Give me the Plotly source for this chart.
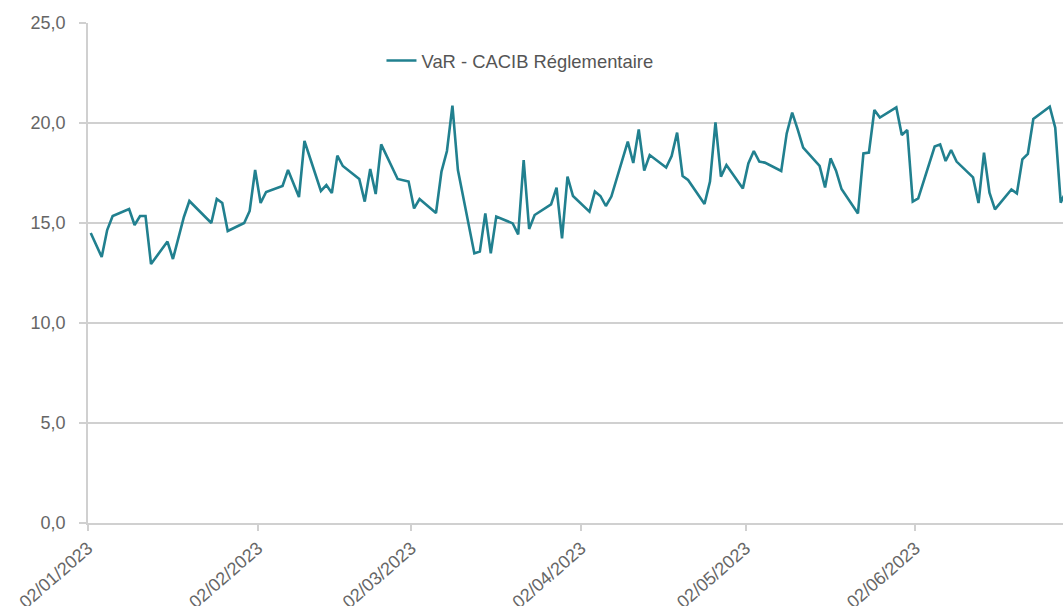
import plotly.graph_objects as go

dates = [
    "2023-01-02", "2023-01-04", "2023-01-05", "2023-01-06", "2023-01-09", "2023-01-10",
    "2023-01-11", "2023-01-12", "2023-01-13", "2023-01-16", "2023-01-17", "2023-01-19",
    "2023-01-20", "2023-01-24", "2023-01-25", "2023-01-26", "2023-01-27", "2023-01-30",
    "2023-01-31", "2023-02-01", "2023-02-02", "2023-02-03", "2023-02-06", "2023-02-07",
    "2023-02-09", "2023-02-10", "2023-02-13", "2023-02-14", "2023-02-15", "2023-02-16",
    "2023-02-17", "2023-02-20", "2023-02-21", "2023-02-22", "2023-02-23", "2023-02-24",
    "2023-02-27", "2023-03-01", "2023-03-02", "2023-03-03", "2023-03-06", "2023-03-07",
    "2023-03-08", "2023-03-09", "2023-03-10", "2023-03-13", "2023-03-14", "2023-03-15",
    "2023-03-16", "2023-03-17", "2023-03-20", "2023-03-21", "2023-03-22", "2023-03-23",
    "2023-03-24", "2023-03-27", "2023-03-28", "2023-03-29", "2023-03-30", "2023-03-31",
    "2023-04-03", "2023-04-04", "2023-04-05", "2023-04-06", "2023-04-07", "2023-04-10",
    "2023-04-11", "2023-04-12", "2023-04-13", "2023-04-14", "2023-04-17", "2023-04-18",
    "2023-04-19", "2023-04-20", "2023-04-21", "2023-04-24", "2023-04-25", "2023-04-26",
    "2023-04-27", "2023-04-28", "2023-05-01", "2023-05-02", "2023-05-03", "2023-05-04",
    "2023-05-05", "2023-05-08", "2023-05-09", "2023-05-10", "2023-05-11", "2023-05-12",
    "2023-05-15", "2023-05-16", "2023-05-17", "2023-05-18", "2023-05-19", "2023-05-22",
    "2023-05-23", "2023-05-24", "2023-05-25", "2023-05-26", "2023-05-29", "2023-05-30",
    "2023-05-31", "2023-06-01", "2023-06-02", "2023-06-05", "2023-06-06", "2023-06-07",
    "2023-06-08", "2023-06-09", "2023-06-12", "2023-06-13", "2023-06-14", "2023-06-15",
    "2023-06-16", "2023-06-19", "2023-06-20", "2023-06-21", "2023-06-22", "2023-06-23",
    "2023-06-26", "2023-06-27", "2023-06-28", "2023-06-29",
]

var_values = [
    14.5, 13.3, 14.65, 15.35, 15.7, 14.9,
    15.35, 15.35, 12.95, 14.07, 13.2, 15.3,
    16.1, 15.0, 16.2, 16.0, 14.6, 15.0,
    15.6, 17.65, 16.0, 16.55, 16.85, 17.65,
    16.3, 19.1, 16.6, 16.9, 16.5, 18.37,
    17.85, 17.2, 16.07, 17.7, 16.45, 18.93,
    17.2, 17.07, 15.73, 16.2, 15.5, 17.57,
    18.6, 20.87, 17.65, 13.48, 13.57, 15.48,
    13.48, 15.32, 14.98, 14.43, 18.15, 14.7,
    15.4, 15.93, 16.77, 14.23, 17.32, 16.35,
    15.57, 16.57, 16.35, 15.85, 16.32, 19.07,
    18.0, 19.68, 17.62, 18.4, 17.77, 18.35,
    19.52, 17.35, 17.15, 15.95, 17.07, 20.03,
    17.32, 17.9, 16.73, 17.98, 18.6, 18.07,
    18.02, 17.6, 19.48, 20.52, 19.68, 18.77,
    17.85, 16.78, 18.23, 17.62, 16.7, 15.48,
    18.48, 18.52, 20.65, 20.27, 20.78, 19.4,
    19.65, 16.07, 16.23, 18.82, 18.93, 18.1,
    18.65, 18.07, 17.28, 16.0, 18.52, 16.52,
    15.68, 16.68, 16.48, 18.18, 18.45, 20.2,
    20.82, 19.77, 16.02, 16.6,
]

series_name = "VaR - CACIB Réglementaire"

tick_positions = [
    "2023-01-01 12:00", "2023-02-01 12:00", "2023-03-01 12:00",
    "2023-04-01 12:00", "2023-05-01 12:00", "2023-06-01 12:00",
]
tick_labels = ["02/01/2023", "02/02/2023", "02/03/2023", "02/04/2023", "02/05/2023", "02/06/2023"]

y_ticks = [0, 5, 10, 15, 20, 25]
y_tick_labels = ["0,0", "5,0", "10,0", "15,0", "20,0", "25,0"]

line_color = "#21808f"
grid_color = "#d0d0d0"
font_family = "Liberation Sans, Arial, sans-serif"

fig = go.Figure()
fig.add_trace(go.Scatter(
    x=dates, y=var_values, mode="lines", name=series_name,
    line=dict(color=line_color, width=2.6),
    showlegend=True,
))

fig.update_layout(
    width=1063, height=606,
    margin=dict(l=88, r=0, t=23, b=83, autoexpand=False),
    paper_bgcolor="white", plot_bgcolor="white",
    font=dict(family=font_family, color="#666666", size=18),
    showlegend=True,
    legend=dict(
        x=0.301, y=0.925, xanchor="left", yanchor="middle",
        font=dict(size=18.4, color="#555555", family=font_family),
        bgcolor="rgba(0,0,0,0)",
    ),
    xaxis=dict(
        type="date",
        range=["2023-01-01 12:00", "2023-06-28 10:00"],
        tickmode="array", tickvals=tick_positions, ticktext=tick_labels,
        tickangle=-41,
        ticks="outside", ticklen=6, tickcolor=grid_color, tickwidth=1.5,
        showgrid=False, zeroline=False,
        showline=True, linecolor=grid_color, linewidth=1.5,
        tickfont=dict(size=18, color="#666666"),
        automargin=False,
    ),
    yaxis=dict(
        range=[0, 25],
        tickmode="array", tickvals=y_ticks, ticktext=y_tick_labels,
        ticks="outside", ticklen=7, tickcolor=grid_color, tickwidth=1.5,
        showgrid=True, gridcolor=grid_color, gridwidth=1.5,
        zeroline=False,
        showline=True, linecolor=grid_color, linewidth=1.5,
        tickfont=dict(size=18, color="#666666"),
        ticklabelstandoff=10,
        automargin=False,
    ),
)

fig.write_html(
    "out.html",
    config={"displayModeBar": False},
    post_script="document.body.style.margin='0';document.body.style.overflow='hidden';",
)
